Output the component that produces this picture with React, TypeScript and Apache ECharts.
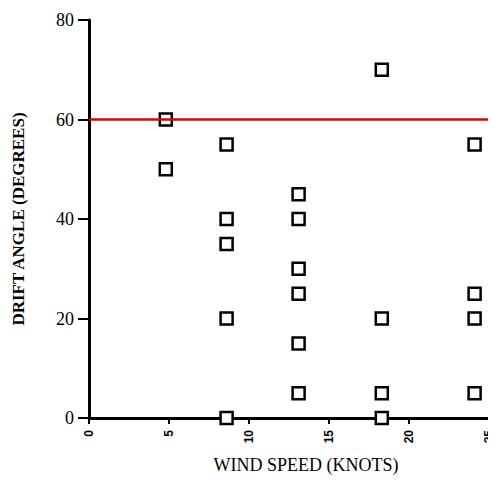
import React, { useEffect, useRef } from "react";
import * as echarts from "echarts";

const windSpeed = [4.8, 4.8, 8.6, 8.6, 8.6, 8.6, 8.6, 13.1, 13.1, 13.1, 13.1, 13.1, 13.1, 18.3, 18.3, 18.3, 18.3, 24.1, 24.1, 24.1, 24.1];
const driftAngle = [60, 50, 55, 40, 35, 20, 0, 45, 40, 30, 25, 15, 5, 70, 20, 5, 0, 55, 25, 20, 5];
const limitAngle = 60;

export default function App() {
  const ref = useRef<HTMLDivElement>(null);
  useEffect(() => {
    const chart = echarts.init(ref.current!, null, { renderer: "svg" });
    const data = windSpeed.map((x, i) => [x, driftAngle[i]]);
    chart.setOption({
      animation: false,
      grid: { left: 81, right: 7, top: 12, bottom: 59, outerBoundsMode: "none", containLabel: false },
      xAxis: {
        type: "value",
        min: 0,
        max: 25,
        interval: 5,
        name: "WIND SPEED (KNOTS)",
        nameLocation: "middle",
        nameGap: 38,
        nameTextStyle: { fontFamily: "Liberation Serif", fontSize: 18, color: "#000", padding: [0, 0, 0, 34] },
        axisLine: { onZero: false, lineStyle: { color: "#000", width: 3 } },
        axisTick: { show: true, length: 6, lineStyle: { color: "#000", width: 2 } },
        axisLabel: { rotate: 90, fontSize: 12, fontWeight: "bold", color: "#000", fontFamily: "Liberation Sans", margin: 12 },
        splitLine: { show: false },
      },
      yAxis: [
        {
          type: "value",
          min: 0,
          max: 80,
          interval: 20,
          name: "DRIFT ANGLE (DEGREES)",
          nameLocation: "middle",
          nameGap: 62,
          nameRotate: 90,
          nameTextStyle: { fontFamily: "Liberation Serif", fontSize: 17, fontWeight: "bold", color: "#000" },
          axisLine: { show: true, lineStyle: { color: "#000", width: 3 } },
          axisTick: { show: true, length: 11, lineStyle: { color: "#000", width: 2 } },
          axisLabel: { fontSize: 18, color: "#000", fontFamily: "Liberation Serif", margin: 15 },
          splitLine: { show: false },
        },
        {
          type: "value",
          min: 0,
          max: 80,
          interval: 20,
          position: "right",
          axisLine: { show: true, lineStyle: { color: "#000", width: 3 } },
          axisTick: { show: false },
          axisLabel: { show: false },
          splitLine: { show: false },
        },
      ],
      series: [
        {
          type: "scatter",
          data,
          symbol: "rect",
          symbolSize: 12,
          itemStyle: { color: "#fff", borderColor: "#000", borderWidth: 2.5, opacity: 1 },
          markLine: {
            silent: true,
            symbol: "none",
            label: { show: false },
            lineStyle: { color: "#e00000", width: 2.5, type: "solid" },
            data: [{ yAxis: limitAngle }],
          },
          z: 3,
        },
      ],
    });
    return () => chart.dispose();
  }, []);
  return <div ref={ref} style={{ width: 488, height: 469 }} />;
}
